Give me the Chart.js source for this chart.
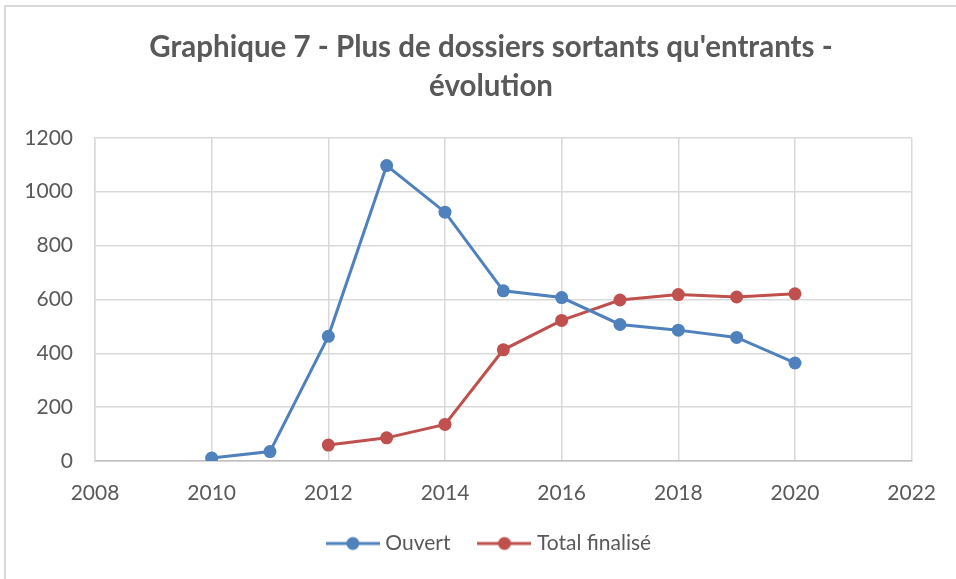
<!DOCTYPE html>
<html>
<head>
<meta charset="utf-8">
<script src="https://cdn.jsdelivr.net/npm/chart.js@4/dist/chart.umd.min.js"></script>
<style>
  html, body { margin: 0; padding: 0; background: #fff; }
  #wrap { position: absolute; left: 0; top: 0; width: 956px; height: 579px; overflow: hidden; }
  #frame { position: absolute; left: 4px; top: 5px; width: 960px; height: 600px;
           border-left: 2px solid #D9D9D9; border-top: 2px solid #D9D9D9; box-sizing: border-box; }
  canvas { position: absolute; left: 0; top: 0; }
</style>
</head>
<body>
<div id="wrap">
  <div id="frame"></div>
  <canvas id="c" width="956" height="579"></canvas>
</div>
<script>
const titleLines = ["Graphique 7 - Plus de dossiers sortants qu'entrants -", "évolution"];
const yearsOuvert = [2010, 2011, 2012, 2013, 2014, 2015, 2016, 2017, 2018, 2019, 2020];
const valuesOuvert = [11, 35, 463, 1097, 924, 632, 607, 507, 486, 459, 364];
const yearsFinalise = [2012, 2013, 2014, 2015, 2016, 2017, 2018, 2019, 2020];
const valuesFinalise = [59, 86, 136, 413, 522, 598, 618, 609, 621];
const seriesNames = ["Ouvert", "Total finalisé"];
const xMin = 2008, xMax = 2022, xStep = 2;
const yMin = 0, yMax = 1200, yStep = 200;

const BLUE = '#4F81BD', RED = '#C0504D', TEXT = '#595959', GRID = '#D9D9D9';
const FONT = 'Lato, "Open Sans", sans-serif';

function legendIcon(color) {
  const cv = document.createElement('canvas');
  cv.width = 54; cv.height = 16;
  const g = cv.getContext('2d');
  g.strokeStyle = color; g.lineWidth = 3; g.lineCap = 'butt';
  g.beginPath(); g.moveTo(0, 8); g.lineTo(54, 8); g.stroke();
  g.fillStyle = color;
  g.beginPath(); g.arc(27, 8, 6.5, 0, Math.PI * 2); g.fill();
  return cv;
}
const icons = [legendIcon(BLUE), legendIcon(RED)];

const toPts = (xs, ys) => xs.map((x, i) => ({ x: x, y: ys[i] }));

new Chart(document.getElementById('c'), {
  type: 'line',
  data: {
    datasets: [
      { label: seriesNames[0], data: toPts(yearsOuvert, valuesOuvert),
        borderColor: BLUE, backgroundColor: BLUE, borderWidth: 3,
        pointRadius: 6.5, pointBorderWidth: 0, pointBackgroundColor: BLUE, tension: 0 },
      { label: seriesNames[1], data: toPts(yearsFinalise, valuesFinalise),
        borderColor: RED, backgroundColor: RED, borderWidth: 3,
        pointRadius: 6.5, pointBorderWidth: 0, pointBackgroundColor: RED, tension: 0 }
    ]
  },
  options: {
    responsive: false,
    animation: false,
    devicePixelRatio: 1,
    layout: { padding: { left: 26, right: 0, top: 0, bottom: 15 } },
    plugins: {
      title: {
        display: true, text: titleLines, color: TEXT,
        font: { family: FONT, size: 29.5, weight: 'bold', lineHeight: 1.32 },
        padding: { top: 28, bottom: 32 }
      },
      legend: {
        display: true, position: 'bottom',
        labels: {
          color: TEXT, font: { family: FONT, size: 21 },
          usePointStyle: true, pointStyleWidth: 44, boxHeight: 16, padding: 32,
          generateLabels: (chart) => chart.data.datasets.map((ds, i) => ({
            text: ds.label, pointStyle: icons[i], fillStyle: ds.borderColor,
            strokeStyle: ds.borderColor, lineWidth: 0, fontColor: TEXT,
            hidden: false, datasetIndex: i
          }))
        }
      },
      tooltip: { enabled: false }
    },
    scales: {
      x: {
        type: 'linear', min: xMin, max: xMax,
        ticks: { stepSize: xStep, color: TEXT, font: { family: FONT, size: 21 }, padding: 20,
                 maxRotation: 0, callback: (v) => String(v) },
        grid: { color: GRID, lineWidth: 1.5, drawTicks: false },
        border: { color: '#BFBFBF', width: 1.5 },
        afterFit: (s) => { s.height = 40; }
      },
      y: {
        min: yMin, max: yMax,
        ticks: { stepSize: yStep, color: TEXT, font: { family: FONT, size: 21 }, padding: 22,
                 callback: (v) => String(v) },
        grid: { color: GRID, lineWidth: 1.5, drawTicks: false },
        border: { color: GRID, width: 1.5 },
        afterFit: (s) => { s.width = 69; }
      },
      spacer: {
        type: 'linear', position: 'right', min: 0, max: 1,
        ticks: { display: false }, grid: { display: false }, border: { display: false },
        afterFit: (s) => { s.width = 42; }
      }
    }
  }
});
</script>
</body>
</html>
